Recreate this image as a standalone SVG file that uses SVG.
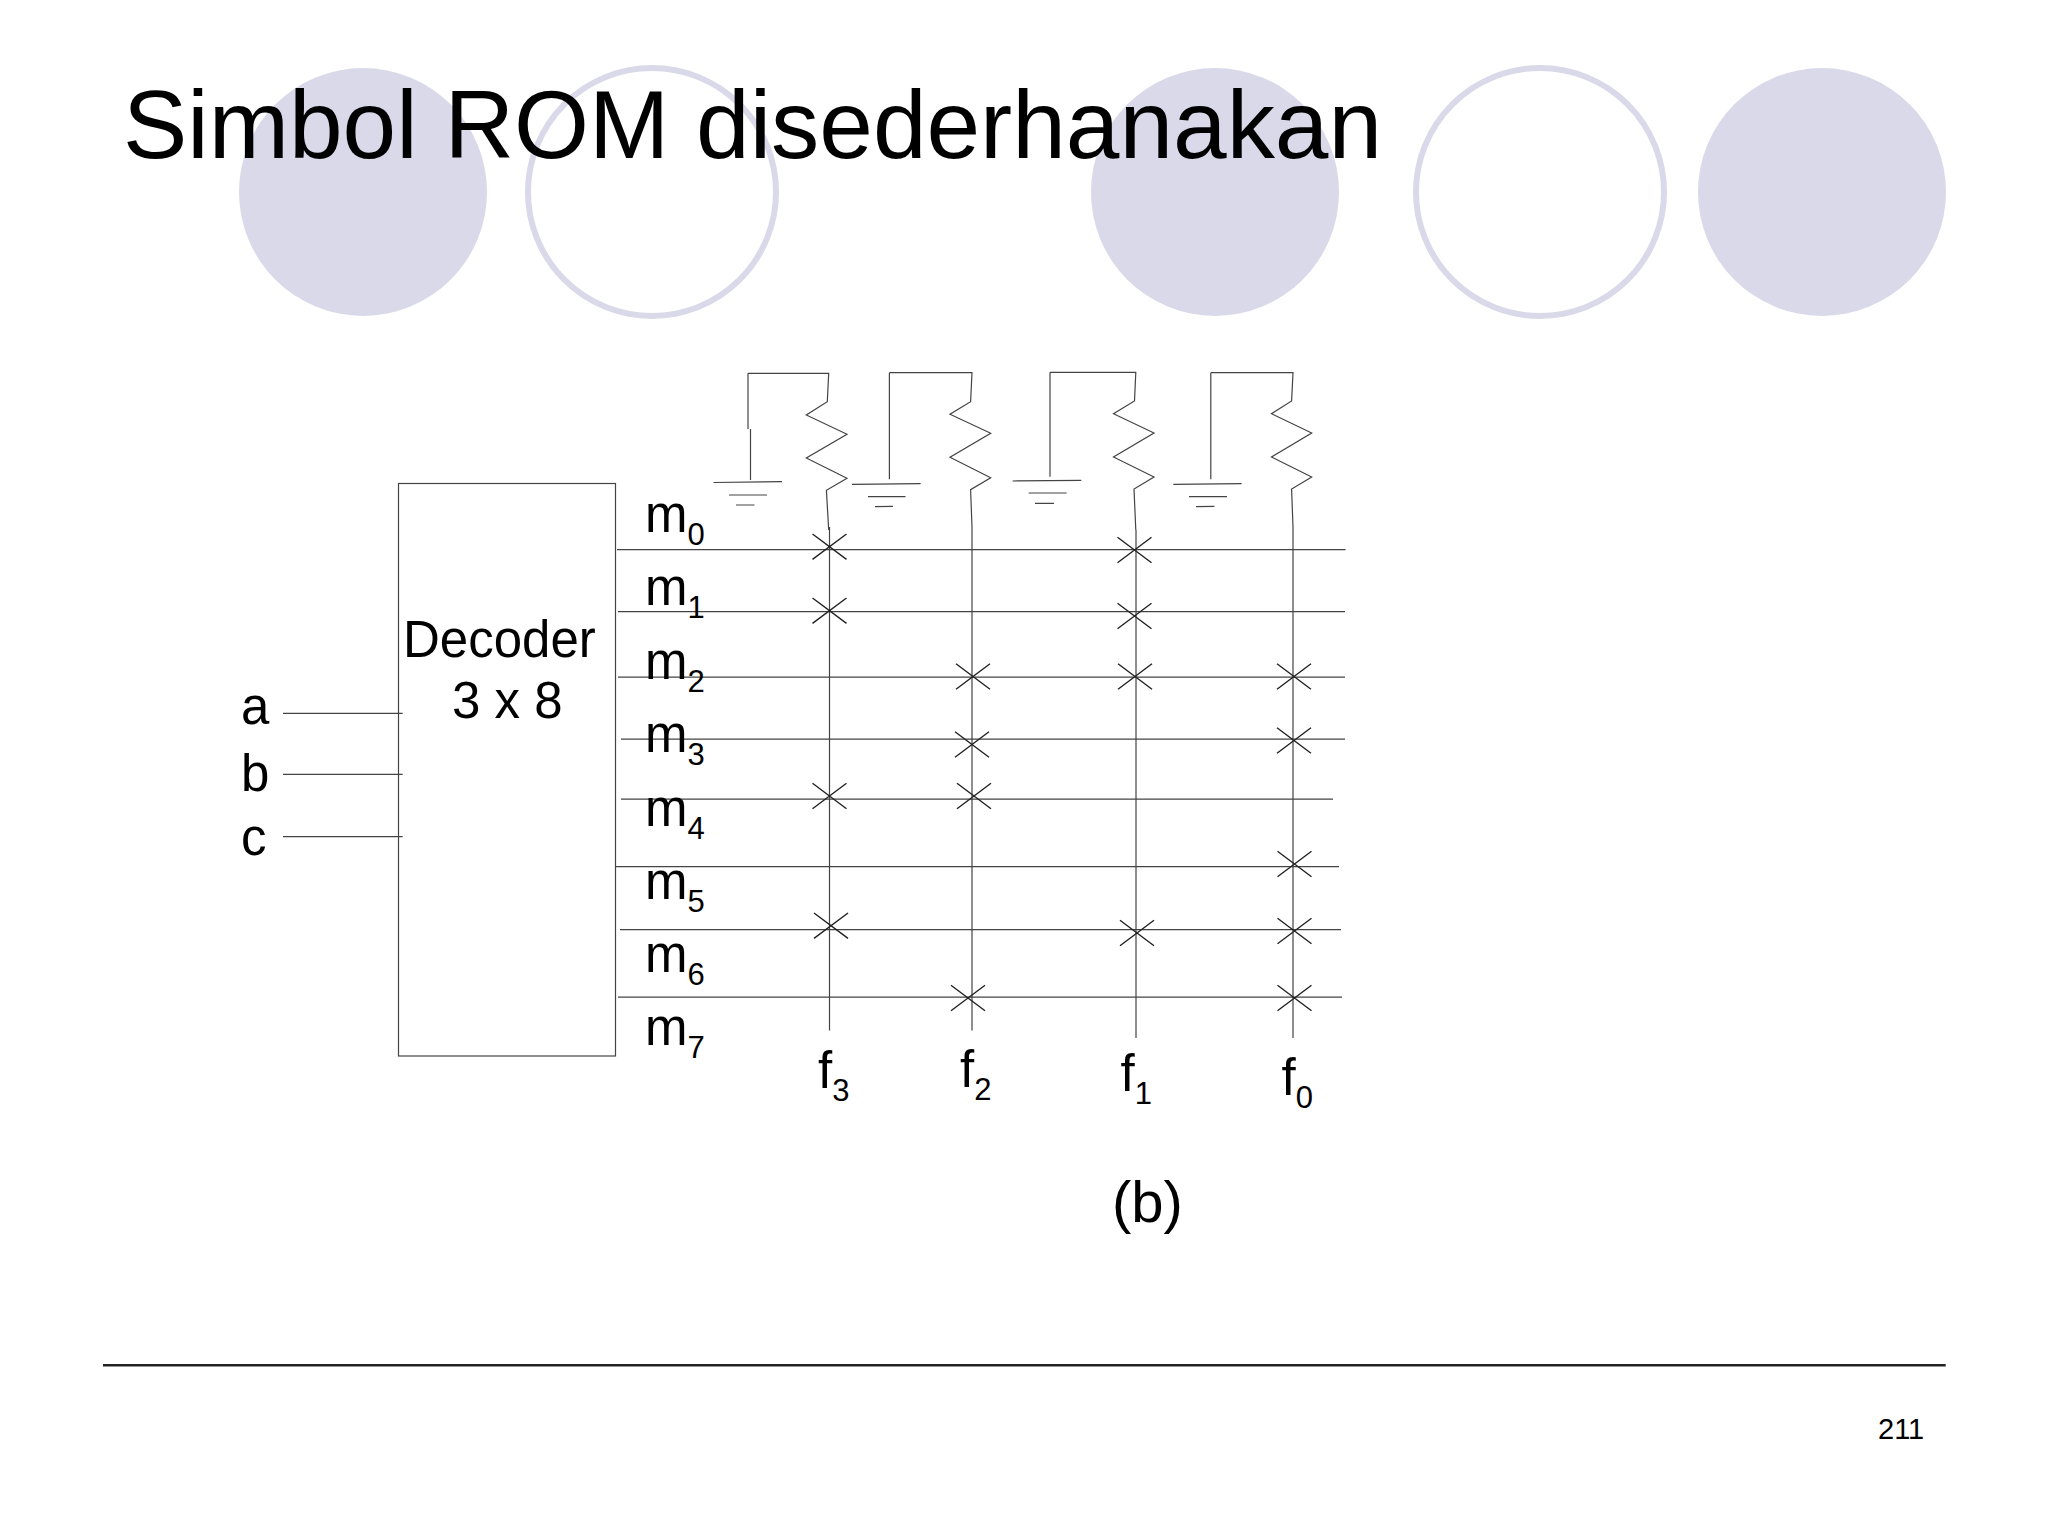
<svg xmlns="http://www.w3.org/2000/svg" width="2048" height="1536" viewBox="0 0 2048 1536">
<style>
text{font-family:"Liberation Sans",Arial,sans-serif;fill:#000}
.l{font-size:51px}
.s{font-size:31px}
.w{fill:none;stroke:#444;stroke-width:1.2}
.h{fill:none;stroke:#444;stroke-width:1.25}
.x{fill:none;stroke:#222;stroke-width:1.4}
.c1{fill:#dad9ea}
.c2{fill:#fff;stroke:#dad9ea;stroke-width:6}
</style>
<defs>
<path id="cross" class="x" d="M-17-12.7L17 12.7M17-12.7L-17 12.7"/>
</defs>
<rect width="2048" height="1536" fill="#fff"/>
<g id="decor">
<circle class="c1" cx="363" cy="192" r="124"/>
<circle class="c2" cx="652" cy="192" r="124"/>
<circle class="c1" cx="1215" cy="192" r="124"/>
<circle class="c2" cx="1540" cy="192" r="124"/>
<circle class="c1" cx="1822" cy="192" r="124"/>
</g>
<g id="title"><text x="123" y="157.5" font-size="96.4">Simbol ROM disederhanakan</text></g>
<g id="decoder">
<rect class="w" x="398.5" y="483.5" width="217" height="572.5"/>
<text class="l" x="403" y="657">Decoder</text>
<text class="l" x="452" y="718">3 x 8</text>
</g>
<g id="connectors">
<g id="inputs" class="h">
<path d="M283 713.3H402.7M283 774.3H402.7M283 836.7H402.7"/>
</g>
<g id="minterm-lines" class="h">
<path d="M617 549.5H1345.6M618 611.5H1345M618 677H1345M621 739H1345M621 799H1333M616 866.5H1339M620 929.7H1341M618 997H1342"/>
</g>
<g id="output-lines" class="w">
<path d="M829.5 527V1030.5M972 527V1030.5M1136 530V1038M1293 527V1038"/>
</g>
<g id="pullups" class="w">
<path d="M748 373.3V429M750.5 429V480M748 373.3H828.7L827.3 401.7L806.3 415L847 434.3L806.3 458L847 478.3L826.4 490.3L828.7 530"/>
<path d="M889.4 372.7V479.3M889.4 372.7H972L970.6 401.7L950 414.3L990.7 433.3L950 457.3L990.7 477.7L970.6 489.7L972 527"/>
<path d="M1050 372.3V476.7M1050 372.3H1135.8L1134.5 401L1113.5 413.7L1154 433L1113.5 457L1154 477L1134 489L1135.8 530"/>
<path d="M1210.8 372.7V479.3M1210.8 372.7H1293L1291.6 401L1271.5 413.7L1311.7 433L1271.5 457L1311.7 477L1291.6 489L1293 527"/>
</g>
</g>
<g id="grounds" class="w">
<path id="gnd-3" d="M713.5 482.5L782 481.7M729 495H767M736 505H754.5"/>
<path id="gnd-2" d="M852 484.3L920.6 483.7M868 496.7H905.5M875 506.7L893 506.3"/>
<path id="gnd-1" d="M1012.6 481L1081.3 480.3M1028.7 493H1066.6M1035 503.3H1054"/>
<path id="gnd-0" d="M1173.3 484.3L1241.6 483.7M1189 496.7H1227M1196 506.7L1214.4 506.3"/>
</g>
<g id="crosspoints">
<use href="#cross" x="829.5" y="546.7"/>
<use href="#cross" x="829.5" y="610.7"/>
<use href="#cross" x="829.5" y="796"/>
<use href="#cross" x="831" y="925.7"/>
<use href="#cross" x="973" y="676.5"/>
<use href="#cross" x="972" y="744.5"/>
<use href="#cross" x="974" y="796"/>
<use href="#cross" x="968" y="998"/>
<use href="#cross" x="1134.5" y="550"/>
<use href="#cross" x="1134.5" y="616"/>
<use href="#cross" x="1135" y="676.5"/>
<use href="#cross" x="1137" y="933"/>
<use href="#cross" x="1294" y="676.5"/>
<use href="#cross" x="1294" y="740.5"/>
<use href="#cross" x="1294.5" y="864"/>
<use href="#cross" x="1294.5" y="931"/>
<use href="#cross" x="1294.5" y="998"/>
</g>
<g id="input-labels">
<text class="l" x="241" y="724">a</text>
<text class="l" x="241" y="790.7">b</text>
<text class="l" x="241" y="855.3">c</text>
</g>
<g id="minterm-labels">
<text class="l" x="645" y="531.7">m<tspan class="s" dy="13">0</tspan></text>
<text class="l" x="645" y="605">m<tspan class="s" dy="13">1</tspan></text>
<text class="l" x="645" y="679">m<tspan class="s" dy="13">2</tspan></text>
<text class="l" x="645" y="752.3">m<tspan class="s" dy="13">3</tspan></text>
<text class="l" x="645" y="825.7">m<tspan class="s" dy="13">4</tspan></text>
<text class="l" x="645" y="898.5">m<tspan class="s" dy="13">5</tspan></text>
<text class="l" x="645" y="971.7">m<tspan class="s" dy="13">6</tspan></text>
<text class="l" x="645" y="1045">m<tspan class="s" dy="13">7</tspan></text>
</g>
<g id="output-labels">
<text class="l" x="818" y="1088">f<tspan class="s" dy="13">3</tspan></text>
<text class="l" x="960" y="1087">f<tspan class="s" dy="13">2</tspan></text>
<text class="l" x="1120.5" y="1090.7">f<tspan class="s" dy="13">1</tspan></text>
<text class="l" x="1281.5" y="1095">f<tspan class="s" dy="13">0</tspan></text>
</g>
<g id="caption"><text x="1112" y="1222" font-size="58">(b)</text></g>
<g id="footer">
<path d="M103 1365.3H1945.7" stroke="#222" stroke-width="2.5" fill="none"/>
<text x="1878" y="1438.5" font-size="29">211</text>
</g>
</svg>
